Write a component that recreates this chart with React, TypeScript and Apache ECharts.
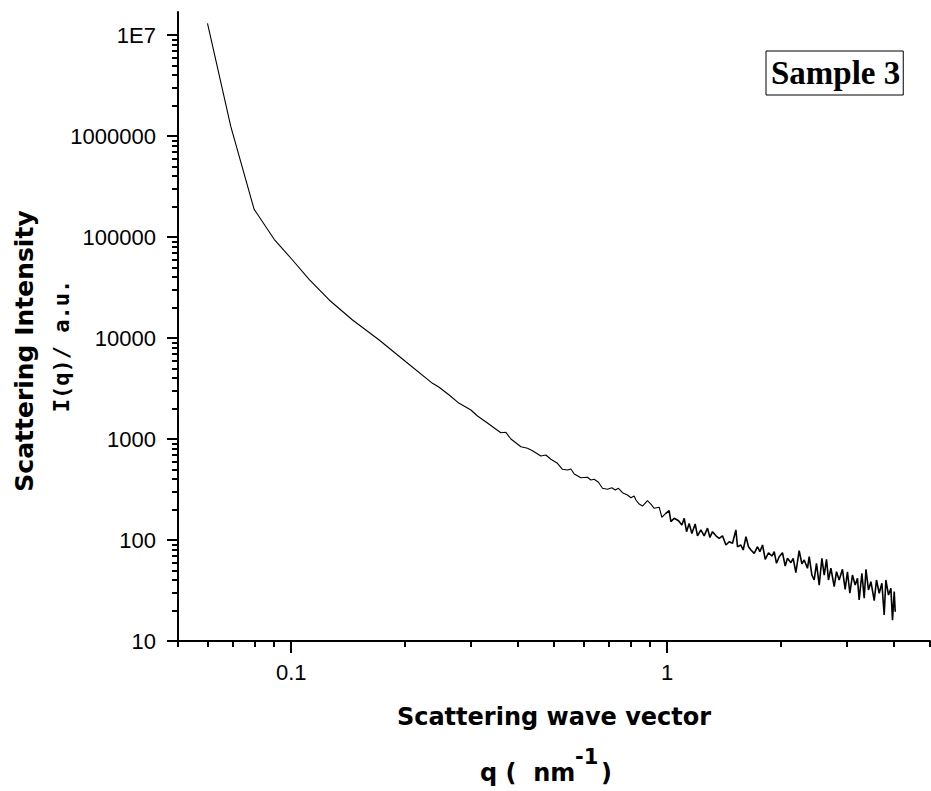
import React, { useEffect, useRef } from "react";
import * as echarts from "echarts";

// Scattering wave vector q (nm^-1) and intensity I(q) (a.u.)
const qSmooth = [0.0599, 0.0691, 0.0797, 0.0901, 0.1008, 0.1116, 0.1262, 0.1456, 0.1714, 0.2018, 0.2376, 0.2474, 0.2631, 0.2797, 0.3006, 0.313, 0.3362, 0.3611, 0.3724, 0.384];
const iSmooth = [1.306e7, 1.236e6, 1.88e5, 9.49e4, 5.92e4, 3.81e4, 2.38e4, 1.507e4, 9550, 5822, 3560, 3251, 2727, 2257, 1937, 1690, 1398, 1155, 1165, 1000];

const qMid = [0.4083, 0.4251, 0.4383, 0.4614, 0.4757, 0.4905, 0.5107, 0.5266, 0.543, 0.5545, 0.5659, 0.5894, 0.6138, 0.6266, 0.6394, 0.6565, 0.6728, 0.6937, 0.7126, 0.7272, 0.7421, 0.7605, 0.7842, 0.8007, 0.8171, 0.8257, 0.8424, 0.8597, 0.8862, 0.905, 0.9235, 0.9522, 0.968, 0.988];
const iMid = [839, 809, 766, 679, 694, 630, 575, 501, 493, 505, 450, 414, 418, 393, 399, 373, 325, 318, 329, 313, 325, 294, 279, 262, 273, 249, 227, 217, 245, 227, 206, 211, 168, 181];

const qTail = [1.012, 1.023, 1.044, 1.072, 1.094, 1.11, 1.126, 1.144, 1.163, 1.187, 1.204, 1.229, 1.254, 1.28, 1.299, 1.32, 1.348, 1.375, 1.403, 1.433, 1.462, 1.492, 1.523, 1.538, 1.57, 1.593, 1.62, 1.645, 1.67, 1.704, 1.739, 1.764, 1.793, 1.823, 1.86, 1.899, 1.926, 1.953, 1.986, 2.026, 2.06, 2.089, 2.133, 2.163, 2.199, 2.244, 2.282, 2.314, 2.361, 2.386, 2.426, 2.46, 2.495, 2.537, 2.579, 2.616, 2.653, 2.685, 2.725, 2.781, 2.82, 2.867, 2.925, 2.974, 3.016, 3.061, 3.11, 3.162, 3.207, 3.24, 3.295, 3.342, 3.378, 3.431, 3.482, 3.553, 3.603, 3.663, 3.724, 3.777, 3.816, 3.878, 3.935, 3.974, 4.016, 4.041];
const iTail = [195, 152, 164, 155, 141, 164, 121, 146, 116, 144, 110, 126, 110, 131, 106, 121, 110, 104, 110, 89.2, 96.2, 92.8, 126, 85.8, 89.2, 79.6, 108, 85.8, 79.6, 73.8, 85.8, 76.6, 89.2, 64.4, 74.8, 69.4, 76.6, 58.8, 68.3, 74.8, 55.3, 65.9, 59.6, 65.9, 47.5, 78.4, 57.9, 63.4, 52.5, 68.3, 45.0, 40.2, 58.8, 35.8, 65.9, 45.0, 64.4, 40.2, 52.5, 34.5, 48.5, 40.2, 51.3, 32.5, 48.5, 29.7, 45.0, 35.8, 41.8, 25.5, 46.8, 26.5, 51.3, 32.0, 38.6, 25.1, 40.2, 29.7, 37.3, 18.1, 40.2, 28.5, 33.2, 16.1, 30.8, 19.5];

const xRange = [0.05, 5];
const yRange = [10, 1.69e7];
const xTickValues = [0.1, 1];
const xTickLabels = ["0.1", "1"];
const yTickValues = [10, 100, 1000, 10000, 100000, 1000000, 10000000];
const yTickLabels = ["10", "100", "1000", "10000", "100000", "1000000", "1E7"];
const xMinorTickValues = [0.05, 0.06, 0.07, 0.08, 0.09, 0.2, 0.3, 0.4, 0.5, 0.6, 0.7, 0.8, 0.9, 2, 3, 4, 5];
const yMinorMultipliers = [2, 3, 4, 5, 6, 7, 8, 9];
const yMinorDecades = [10, 100, 1000, 10000, 100000, 1000000];

const seriesName = "Sample 3";
const xTitle = "Scattering wave vector";
const yTitle1 = "Scattering Intensity";
const yTitle2 = "I(q)/ a.u.";

const lg = (v: number) => Math.log10(v);

export default function App() {
  const ref = useRef<HTMLDivElement>(null);
  useEffect(() => {
    if (!ref.current) return;
    const chart = echarts.init(ref.current, null, { renderer: "svg" });
    const q1 = [...qSmooth, ...qMid];
    const I1 = [...iSmooth, ...iMid];
    const data1 = q1.map((v, i) => [lg(v), lg(I1[i])]);
    // the noisy tail continues from the last point of the first part
    const data2 = [data1[data1.length - 1], ...qTail.map((v, i) => [lg(v), lg(iTail[i])])];
    const yMinor: number[] = [];
    yMinorDecades.forEach((d) => yMinorMultipliers.forEach((m) => yMinor.push(lg(m * d))));
    const labelFont = { fontFamily: "'Liberation Sans', Arial, sans-serif", fontSize: 22, color: "#000" };
    const findLabel = (vals: number[], labels: string[], v: number) => {
      const i = vals.findIndex((t) => Math.abs(lg(t) - v) < 1e-6);
      return i >= 0 ? labels[i] : "";
    };
    const axisMin = (r: number[]) => lg(r[0]);
    const axisMax = (r: number[]) => lg(r[1]);
    chart.setOption({
      animation: false,
      backgroundColor: "#fff",
      grid: { left: 178, top: 12, right: 1, bottom: 150, containLabel: false, outerBoundsMode: "none" },
      legend: {
        data: [seriesName],
        left: 766,
        top: 51,
        icon: "none",
        itemWidth: 0,
        itemHeight: 0,
        itemGap: 0,
        selectedMode: false,
        borderColor: "#000",
        borderWidth: 1,
        borderRadius: 0,
        padding: [5, 3, 5, 0],
        textStyle: { fontFamily: "'Liberation Serif', 'Times New Roman', serif", fontWeight: "bold", fontSize: 33, color: "#000", lineHeight: 34 },
      },
      xAxis: [
        {
          type: "value",
          min: axisMin(xRange),
          max: axisMax(xRange),
          position: "bottom",
          name: xTitle,
          nameLocation: "middle",
          nameGap: 64,
          nameTextStyle: { fontFamily: "'DejaVu Sans', Verdana, sans-serif", fontWeight: "bold", fontSize: 24, color: "#000", lineHeight: 24 },
          axisLine: { show: true, onZero: false, lineStyle: { color: "#000", width: 2 } },
          axisTick: { show: true, inside: false, length: 12, lineStyle: { color: "#000", width: 2 }, customValues: xTickValues.map(lg) },
          axisLabel: { ...labelFont, margin: 20, customValues: xTickValues.map(lg), formatter: (v: number) => findLabel(xTickValues, xTickLabels, v) },
          splitLine: { show: false },
        },
        {
          type: "value",
          min: axisMin(xRange),
          max: axisMax(xRange),
          position: "bottom",
          axisLine: { show: false, onZero: false },
          axisTick: { show: true, inside: false, length: 6, lineStyle: { color: "#000", width: 2 }, customValues: xMinorTickValues.map(lg) },
          axisLabel: { show: false },
          splitLine: { show: false },
        },
      ],
      yAxis: [
        {
          type: "value",
          min: axisMin(yRange),
          max: axisMax(yRange),
          position: "left",
          axisLine: { show: true, onZero: false, lineStyle: { color: "#000", width: 2 } },
          axisTick: { show: true, inside: false, length: 11, lineStyle: { color: "#000", width: 2 }, customValues: yTickValues.map(lg) },
          axisLabel: { ...labelFont, margin: 22, customValues: yTickValues.map(lg), formatter: (v: number) => findLabel(yTickValues, yTickLabels, v) },
          splitLine: { show: false },
        },
        {
          type: "value",
          min: axisMin(yRange),
          max: axisMax(yRange),
          position: "left",
          axisLine: { show: false, onZero: false },
          axisTick: { show: true, inside: false, length: 6, lineStyle: { color: "#000", width: 2 }, customValues: yMinor },
          axisLabel: { show: false },
          splitLine: { show: false },
        },
      ],
      series: [
        {
          type: "line",
          name: seriesName,
          data: data1,
          xAxisIndex: 0,
          yAxisIndex: 0,
          showSymbol: false,
          symbol: "none",
          lineStyle: { color: "#000", width: 1.1 },
          itemStyle: { color: "#000" },
        },
        {
          type: "line",
          name: seriesName,
          data: data2,
          xAxisIndex: 0,
          yAxisIndex: 0,
          showSymbol: false,
          symbol: "none",
          lineStyle: { color: "#000", width: 1.6 },
          itemStyle: { color: "#000" },
        },
      ],
      graphic: [
        {
          type: "text",
          x: 24,
          y: 351,
          rotation: Math.PI / 2,
          style: { text: yTitle1, fontFamily: "'DejaVu Sans', Verdana, sans-serif", fontWeight: "bold", fontSize: 25, fill: "#000", align: "center", verticalAlign: "middle" },
        },
        {
          type: "text",
          x: 61,
          y: 346,
          rotation: Math.PI / 2,
          style: { text: yTitle2, fontFamily: "'DejaVu Sans Mono', monospace", fontWeight: "bold", fontSize: 22, fill: "#000", align: "center", verticalAlign: "middle" },
        },
        {
          type: "text",
          x: 480,
          y: 773,
          style: { text: "q (  nm", fontFamily: "'DejaVu Sans', Verdana, sans-serif", fontWeight: "bold", fontSize: 24, fill: "#000", align: "left", verticalAlign: "middle" },
        },
        {
          type: "text",
          x: 575,
          y: 757,
          style: { text: "-1", fontFamily: "'DejaVu Sans', Verdana, sans-serif", fontWeight: "bold", fontSize: 21, fill: "#000", align: "left", verticalAlign: "middle" },
        },
        {
          type: "text",
          x: 601,
          y: 773,
          style: { text: ")", fontFamily: "'DejaVu Sans', Verdana, sans-serif", fontWeight: "bold", fontSize: 24, fill: "#000", align: "left", verticalAlign: "middle" },
        },
      ],
    });
    return () => chart.dispose();
  }, []);
  return <div ref={ref} style={{ position: "absolute", left: 0, top: 0, width: 931, height: 791 }} />;
}
